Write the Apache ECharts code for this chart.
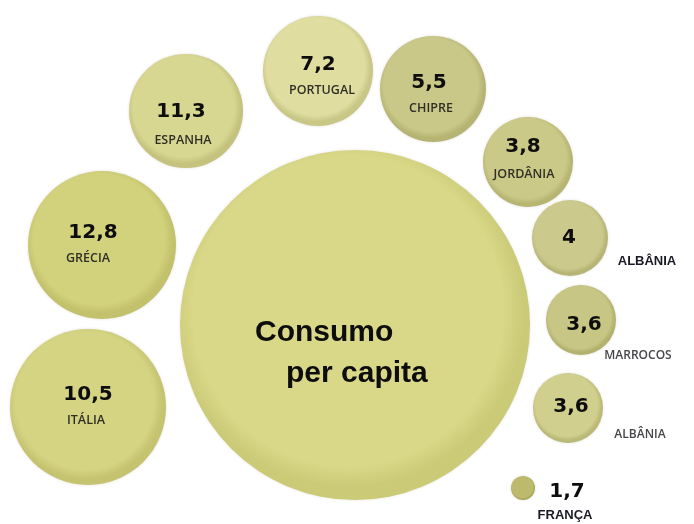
<!DOCTYPE html>
<html>
<head>
<meta charset="utf-8">
<script src="https://cdn.jsdelivr.net/npm/echarts@6/dist/echarts.min.js"></script>
<style>
  html, body { margin: 0; padding: 0; background: #ffffff; }
  #chart { width: 694px; height: 524px; }
</style>
</head>
<body>
<div id="chart"></div>
<script>
// Olive oil consumption per capita (litres), by country
const countries = ['GRÉCIA', 'ITÁLIA', 'ESPANHA', 'PORTUGAL', 'CHIPRE', 'JORDÂNIA', 'ALBÂNIA', 'MARROCOS', 'ALBÂNIA', 'FRANÇA'];
const consumption = [12.8, 10.5, 11.3, 7.2, 5.5, 3.8, 4, 3.6, 3.6, 1.7];
const centreTitle = ['Consumo', 'per capita'];

// Bubble placement on the page (pixel-like axis units), diameters, label nudges and fills
const layout = [
  { at: [102, 245], d: 148, v: [-9, -12], n: [-14, 13], fill: '#d2d17c', rim: '#c3c16b', name: 'in' },
  { at: [88, 407],  d: 156, v: [0, -12],  n: [-2, 13],  fill: '#d5d482', rim: '#c5c370', name: 'in' },
  { at: [186, 111], d: 114, v: [-5, 1],   n: [-3, 29],  fill: '#d8d791', rim: '#c4c27c', name: 'in' },
  { at: [318, 71],  d: 110, v: [0, -6],   n: [4, 19],   fill: '#dfdea0', rim: '#c9c786', name: 'in' },
  { at: [433, 89],  d: 106, v: [-4, -6],  n: [-2, 19],  fill: '#c9c888', rim: '#b6b472', name: 'in' },
  { at: [528, 162], d: 90,  v: [-5, -15], n: [-4, 12],  fill: '#cac988', rim: '#b7b572', name: 'in' },
  { at: [570, 238], d: 76,  v: [-1, 0],   n: [77, 23],  fill: '#cbca8c', rim: '#b7b576', name: 'bold' },
  { at: [581, 320], d: 70,  v: [3, 5],    n: [57, 36],  fill: '#c8c685', rim: '#b3b16e', name: 'light' },
  { at: [568, 408], d: 70,  v: [3, -1],   n: [72, 27],  fill: '#d0cf8e', rim: '#bbb976', name: 'light' },
  { at: [523, 488], d: 24,  v: [44, 4],   n: [42, 27],  fill: '#bdba6e', rim: '#a8a55a', name: 'bold' }
];
const centreBubble = { at: [355, 325], d: 350, fill: '#d9d888', rim: '#cbca77' };

const nameStyles = {
  in:    { fontFamily: 'Open Sans', fontWeight: 600, fontSize: 12.5, color: '#302f26' },
  bold:  { fontFamily: 'Liberation Sans', fontWeight: 'bold', fontSize: 13, color: '#1a1a26' },
  light: { fontFamily: 'Open Sans', fontWeight: 600, fontSize: 12, color: '#45454a' }
};

// Flat fill with a soft darker rim at the edge of each bubble
function fillOf(item) {
  return new echarts.graphic.RadialGradient(0.48, 0.46, 0.54, [
    { offset: 0, color: item.fill },
    { offset: 0.82, color: item.fill },
    { offset: 0.93, color: item.rim }
  ]);
}

const fmt = v => String(v).replace('.', ',');

const bubbleData = consumption.map((v, i) => ({
  name: countries[i],
  value: [layout[i].at[0], layout[i].at[1], v],
  symbolSize: layout[i].d,
  itemStyle: { color: fillOf(layout[i]) },
  label: { offset: layout[i].v }
}));

const nameData = countries.map((c, i) => ({
  name: c,
  value: [layout[i].at[0], layout[i].at[1]],
  label: Object.assign({ offset: layout[i].n }, nameStyles[layout[i].name])
}));

const chart = echarts.init(document.getElementById('chart'), null, { renderer: 'canvas' });
chart.setOption({
  backgroundColor: '#ffffff',
  animation: false,
  grid: { left: 0, right: 0, top: 0, bottom: 0 },
  xAxis: { type: 'value', min: 0, max: 694, show: false },
  yAxis: { type: 'value', min: 0, max: 524, inverse: true, show: false },
  series: [
    {
      type: 'scatter',
      z: 1,
      symbolSize: centreBubble.d,
      data: [{
        name: centreTitle.join(' '),
        value: centreBubble.at,
        itemStyle: { color: fillOf(centreBubble) }
      }],
      itemStyle: { opacity: 1, shadowBlur: 3, shadowColor: 'rgba(0,0,0,0.1)' },
      label: {
        show: true,
        position: 'inside',
        align: 'left',
        offset: [-100, 28],
        formatter: () => '{a|' + centreTitle[0] + '}\n{b|' + centreTitle[1] + '}',
        rich: {
          a: { fontFamily: 'Liberation Sans', fontWeight: 'bold', fontSize: 30, color: '#0d0d0d', lineHeight: 41 },
          b: { fontFamily: 'Liberation Sans', fontWeight: 'bold', fontSize: 30, color: '#0d0d0d', lineHeight: 41,
               padding: [0, 0, 0, 31] }
        }
      }
    },
    {
      type: 'scatter',
      z: 2,
      data: bubbleData,
      itemStyle: { opacity: 1, shadowBlur: 3, shadowColor: 'rgba(0,0,0,0.12)' },
      label: {
        show: true,
        position: 'inside',
        formatter: p => fmt(p.value[2]),
        fontFamily: 'DejaVu Sans',
        fontWeight: 'bold',
        fontSize: 20,
        color: '#0d0d0d'
      }
    },
    {
      type: 'scatter',
      z: 3,
      symbolSize: 0,
      silent: true,
      itemStyle: { opacity: 1 },
      data: nameData,
      label: {
        show: true,
        position: 'inside',
        formatter: p => p.name
      }
    }
  ]
});
</script>
</body>
</html>
